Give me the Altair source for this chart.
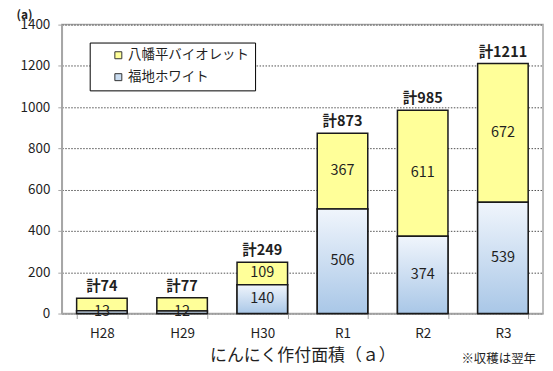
import altair as alt
import pandas as pd

categories = ["H28", "H29", "H30", "R1", "R2", "R3"]
fukuchi = [13, 12, 140, 506, 374, 539]          # 福地ホワイト (bottom)
hachimantai = [61, 65, 109, 367, 611, 672]      # 八幡平バイオレット (top)
totals = [74, 77, 249, 873, 985, 1211]
show_top_label = [False, False, True, True, True, True]
y_ticks = [0, 200, 400, 600, 800, 1000, 1200, 1400]

S_Y = "八幡平バイオレット"
S_B = "福地ホワイト"
FONT = "Noto Sans CJK JP"
TXT = "#1f1f1f"

rows = []
for i, c in enumerate(categories):
    b = fukuchi[i]
    t = hachimantai[i]
    rows.append(dict(cat=c, series=S_B, lo=0, hi=b, mid=b / 2, label=str(b)))
    rows.append(dict(cat=c, series=S_Y, lo=b, hi=b + t, mid=b + t / 2,
                     label=str(t) if show_top_label[i] else ""))
seg = pd.DataFrame(rows)
tot = pd.DataFrame(dict(cat=categories, total=totals,
                        label=["計" + str(v) for v in totals]))

x_enc = alt.X("cat:N", sort=categories,
              scale=alt.Scale(paddingInner=0.37, paddingOuter=0.185),
              axis=alt.Axis(title="にんにく作付面積（ａ）", labelAngle=0, tickBand="extent",
                            labelFont=FONT, labelFontSize=13.5, labelColor=TXT,
                            labelPadding=8, tickSize=5, tickColor="#a6a6a6",
                            domainColor="#a6a6a6", domainWidth=1.5,
                            titleFont=FONT, titleFontSize=17, titleFontWeight="normal",
                            titleColor=TXT, titlePadding=8))

y_axis = alt.Axis(values=y_ticks, format="d", title="(a)", titleAngle=0, titleX=-38,
                  titleY=-15, titleAlign="center", titleBaseline="top", titleFont=FONT,
                  titleFontSize=12, titleFontWeight="bold", titleColor=TXT,
                  labelFont=FONT, labelFontSize=13.5, labelColor=TXT, labelPadding=8,
                  tickSize=4, tickColor="#a6a6a6", domainColor="#a6a6a6", domainWidth=1.5,
                  grid=True, gridColor="#505050", gridDash=[1.5, 1.5], gridWidth=1)
y_scale = alt.Scale(domain=[0, 1400])

grad = alt.Gradient(gradient="linear",
                    stops=[alt.GradientStop(color="#f0f5fc", offset=0),
                           alt.GradientStop(color="#a9c7e7", offset=1)],
                    x1=0, x2=0, y1=0, y2=1)

bars = alt.Chart(seg).mark_bar(stroke="#1a1a1a", strokeWidth=1.5).encode(
    x=x_enc,
    y=alt.Y("lo:Q", scale=y_scale, axis=y_axis),
    y2="hi:Q",
    fill=alt.Fill("series:N",
                  scale=alt.Scale(domain=[S_Y, S_B], range=["#ffff99", "#c9dcf0"]),
                  legend=alt.Legend(title=None, orient="none", legendX=28, legendY=18,
                                    fillColor="white", strokeColor="#000000", padding=6,
                                    symbolType="square", symbolSize=49,
                                    symbolStrokeColor="#333333", symbolStrokeWidth=1,
                                    symbolOffset=16, labelFont=FONT, labelFontSize=13.5,
                                    labelColor=TXT, rowPadding=7, labelOffset=3,
                                    labelExpr="datum.label + '　　'")),
)

blue = alt.Chart(seg).transform_filter(alt.datum.series == S_B).mark_bar(
    fill=grad, stroke="#1a1a1a", strokeWidth=1.5).encode(
    x=x_enc,
    y=alt.Y("lo:Q", scale=y_scale, axis=y_axis),
    y2="hi:Q",
)

seg_text = alt.Chart(seg).mark_text(font=FONT, fontSize=14.5, color=TXT,
                                    baseline="middle").encode(
    x=x_enc,
    y=alt.Y("mid:Q", scale=y_scale, axis=y_axis),
    text="label:N",
)

tot_text = alt.Chart(tot).mark_text(font=FONT, fontSize=14.5, fontWeight="bold",
                                    color=TXT, baseline="bottom", dy=-4).encode(
    x=x_enc,
    y=alt.Y("total:Q", scale=y_scale, axis=y_axis),
    text="label:N",
)

note = alt.Chart(pd.DataFrame({"t": ["※収穫は翌年"]})).mark_text(
    font=FONT, fontSize=12.5, color=TXT, align="right", baseline="middle").encode(
    x=alt.value(476), y=alt.value(336), text="t:N")

chart = alt.layer(bars, blue, seg_text, tot_text, note).properties(
    width=483, height=290,
    autosize=alt.AutoSizeParams(type="none"),
    padding={"left": 54, "top": 16, "right": 2, "bottom": 56},
).configure_view(stroke="#a6a6a6", strokeWidth=1.5)

chart.save("out.html", embed_options={"renderer": "svg", "actions": False})
